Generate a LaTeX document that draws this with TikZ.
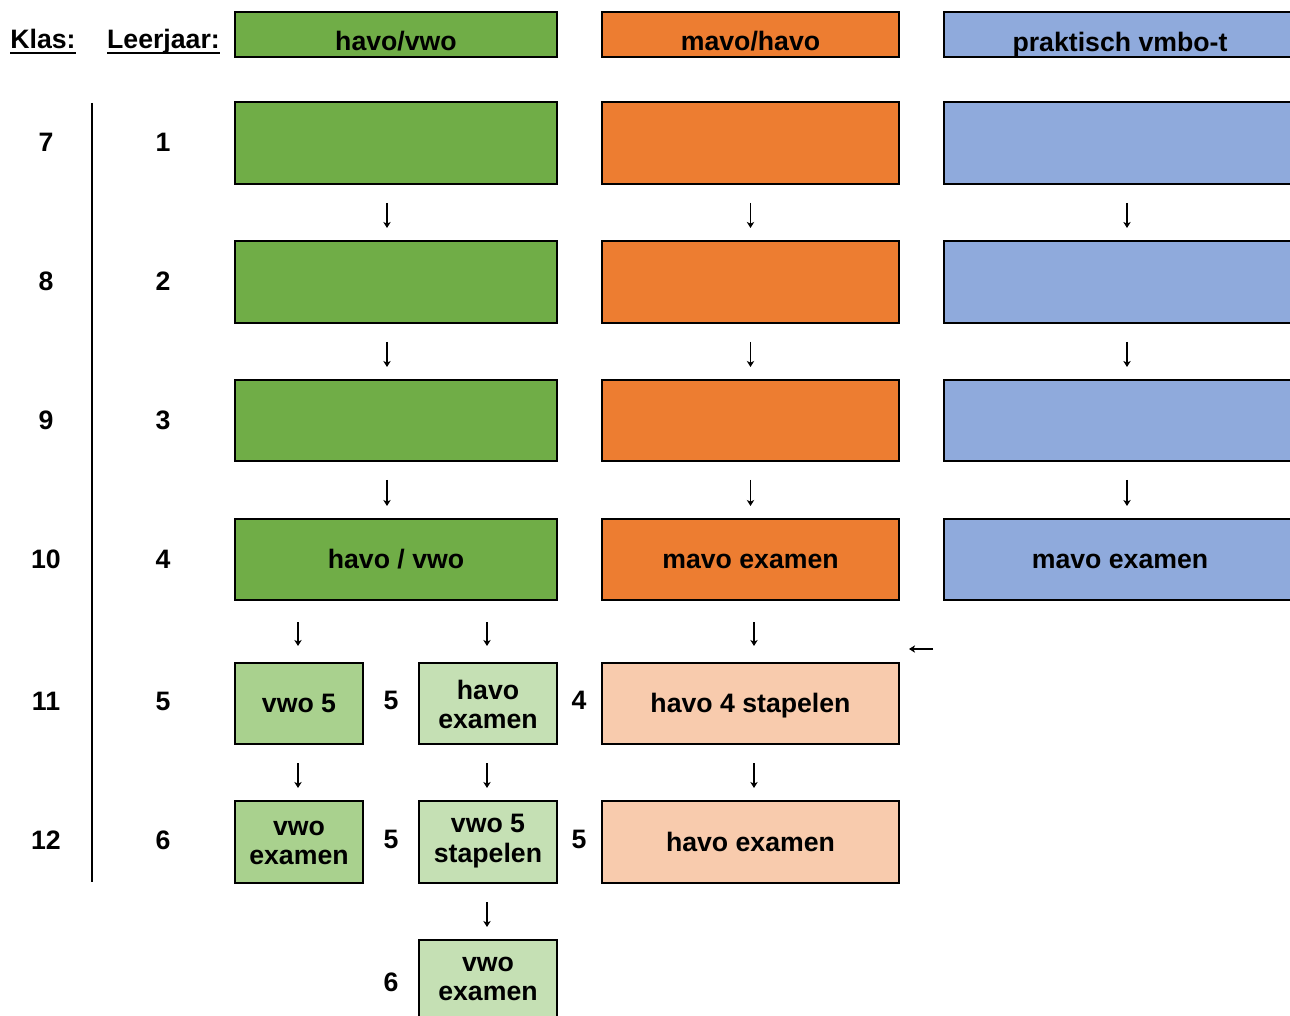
\documentclass[tikz,border=0pt]{standalone}
\usepackage{fontspec}
\setmainfont{Liberation Sans}
\usetikzlibrary{arrows.meta,calc}
\definecolor{cG}{HTML}{70AD47}
\definecolor{cO}{HTML}{ED7D31}
\definecolor{cB}{HTML}{8FAADC}
\definecolor{cLG}{HTML}{A9D18E}
\definecolor{cPG}{HTML}{C5E0B4}
\definecolor{cP}{HTML}{F8CBAD}
\newcommand\myul[1]{\setbox0\hbox{#1}\rlap{\rule[-4.5pt]{\wd0}{1.5pt}}\box0}
% place text with its (first) baseline #1 above the node centre
\newcommand\tat[2]{\raisebox{#1}[0pt][0pt]{#2}}
\newcommand\two[3]{\raisebox{#1}[0pt][0pt]{\begin{tabular}[t]{@{}c@{}}#2\\#3\end{tabular}}}
\begin{document}
\begin{tikzpicture}[x=0.75pt,y=-0.75pt,
  every node/.style={font=\fontsize{20}{22}\selectfont\bfseries, text=black},
  box/.style={draw=black, line width=1.5pt, inner sep=0pt, outer sep=0pt, align=center},
  rect/.style n args={4}{minimum width={(#3-#1)*0.75pt}, minimum height={(#4-#2)*0.75pt}, at={({(#1+#3)/2},{(#2+#4)/2})}},
  num/.style={inner sep=0pt},
  darr/.style={-{Stealth[length=4.5pt,width=5.5pt,inset=1.2pt]}, line width=0.8pt},
  vline/.style={line width=2.2pt}
]
\useasboundingbox (0,0) rectangle (1290,1016);
\clip (0,0) rectangle (1290,1016);

% header
\node[num, anchor=base] (klas) at (43,48.5) {\myul{Klas:}};
\node[num, anchor=base] (leer) at (163.5,48.5) {\myul{Leerjaar:}};
\node[box, fill=cG, rect={235}{12}{557}{57}] (hg) {\tat{-12.3pt}{havo/vwo}};
\node[box, fill=cO, rect={602}{12}{899}{57}] (ho) {\tat{-12.3pt}{mavo/havo}};
\node[box, fill=cB, rect={944}{12}{1296}{57}] (hb) {\tat{-12.6pt}{praktisch vmbo-t}};

% rows 1-4
\node[box, fill=cG, rect={235}{102}{557}{184}] (g1) {};
\node[box, fill=cO, rect={602}{102}{899}{184}] (o1) {};
\node[box, fill=cB, rect={944}{102}{1296}{184}] (b1) {};
\node[box, fill=cG, rect={235}{241}{557}{323}] (g2) {};
\node[box, fill=cO, rect={602}{241}{899}{323}] (o2) {};
\node[box, fill=cB, rect={944}{241}{1296}{323}] (b2) {};
\node[box, fill=cG, rect={235}{380}{557}{461}] (g3) {};
\node[box, fill=cO, rect={602}{380}{899}{461}] (o3) {};
\node[box, fill=cB, rect={944}{380}{1296}{461}] (b3) {};
\node[box, fill=cG, rect={235}{519}{557}{600}] (g4) {\tat{-7pt}{havo / vwo}};
\node[box, fill=cO, rect={602}{519}{899}{600}] (o4) {\tat{-7pt}{mavo examen}};
\node[box, fill=cB, rect={944}{519}{1296}{600}] (b4) {\tat{-7pt}{mavo examen}};

% rows 5-7
\node[box, fill=cLG, rect={235}{663}{363}{744}] (v5) {\tat{-6.75pt}{vwo 5}};
\node[box, fill=cPG, rect={419}{663}{557}{744}] (he5) {\two{3.3pt}{havo}{examen}};
\node[box, fill=cP, rect={602}{663}{899}{744}] (h45) {\tat{-6.75pt}{havo 4 stapelen}};
\node[box, fill=cLG, rect={235}{801}{363}{883}] (ve6) {\two{5pt}{vwo}{examen}};
\node[box, fill=cPG, rect={419}{801}{557}{883}] (vs6) {\two{7pt}{vwo 5}{stapelen}};
\node[box, fill=cP, rect={602}{801}{899}{883}] (he6) {\tat{-6.75pt}{havo examen}};
\node[box, fill=cPG, rect={419}{940}{557}{1022}] (ve7) {\two{7.5pt}{vwo}{examen}};

% klas / leerjaar numbers
\node[num] (k7) at (46,142) {7};
\node[num] (k8) at (46,281) {8};
\node[num] (k9) at (46,420) {9};
\node[num] (k10) at (46,559) {10};
\node[num] (k11) at (46,701) {11};
\node[num] (k12) at (46,840) {12};
\node[num] (l1) at (163,142) {1};
\node[num] (l2) at (163,281) {2};
\node[num] (l3) at (163,420) {3};
\node[num] (l4) at (163,559) {4};
\node[num] (l5) at (163,701) {5};
\node[num] (l6) at (163,840) {6};
\node[num] (m5a) at (391,700) {5};
\node[num] (m4a) at (579,700) {4};
\node[num] (m5b) at (391,839) {5};
\node[num] (m5c) at (579,839) {5};
\node[num] (m6a) at (391,982) {6};

\draw[vline] (92,103) -- (92,882);

% arrows rows 1-4
\foreach \a/\b in {g1/g2,g2/g3,g3/g4}
  \draw[darr] ($(\a.south)+(-9,19)$) -- ($(\b.north)+(-9,-13)$);
\foreach \a/\b in {o1/o2,o2/o3,o3/o4}
  \draw[darr] ($(\a.south)+(0,19)$) -- ($(\b.north)+(0,-13)$);
\foreach \a/\b in {b1/b2,b2/b3,b3/b4}
  \draw[darr] ($(\a.south)+(7,19)$) -- ($(\b.north)+(7,-13)$);

% arrows row 4 -> 5
\draw[darr] ($(v5.north |- g4.south)+(-1,22)$) -- ($(v5.north)+(-1,-17)$);
\draw[darr] ($(he5.north |- g4.south)+(-1,22)$) -- ($(he5.north)+(-1,-17)$);
\draw[darr] ($(o4.south)+(3.5,22)$) -- ($(h45.north)+(3.5,-17)$);
\draw[darr] ($(b4.south west)+(-11,49)$) -- ($(h45.north east)+(10,-14)$);

% arrows row 5 -> 6 -> 7
\draw[darr] ($(v5.south)+(-1,19)$) -- ($(ve6.north)+(-1,-13)$);
\draw[darr] ($(he5.south)+(-1,19)$) -- ($(vs6.north)+(-1,-13)$);
\draw[darr] ($(h45.south)+(3.5,19)$) -- ($(he6.north)+(3.5,-13)$);
\draw[darr] ($(vs6.south)+(-1,19)$) -- ($(ve7.north)+(-1,-13)$);
\end{tikzpicture}
\end{document}
